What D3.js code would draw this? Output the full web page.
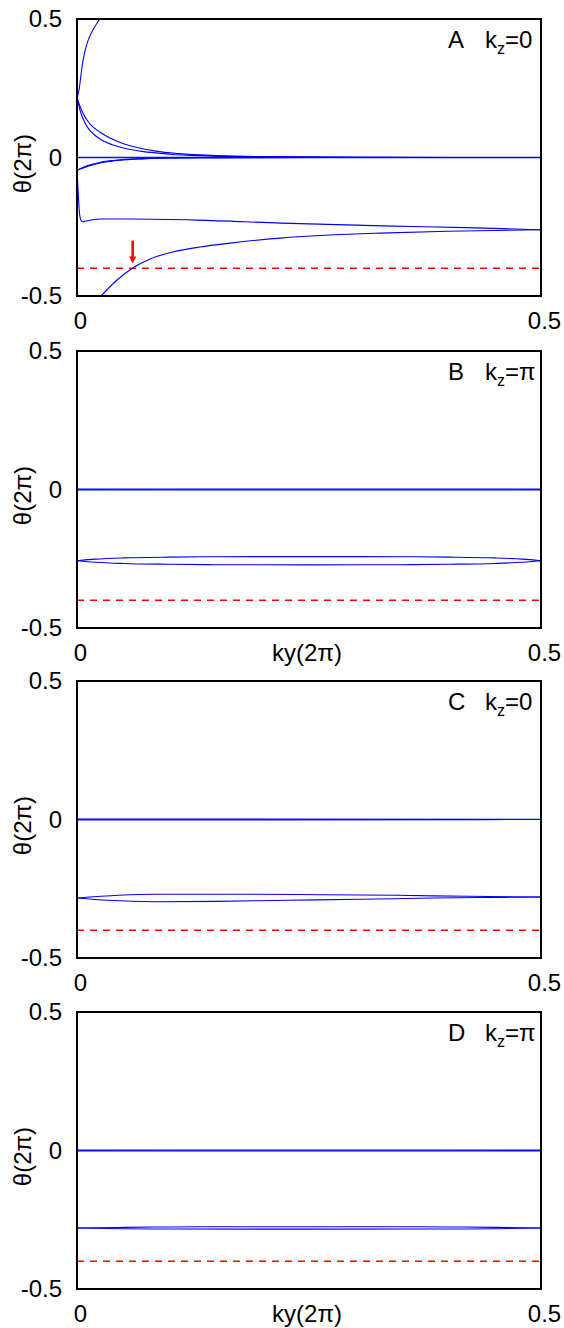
<!DOCTYPE html>
<html>
<head>
<meta charset="utf-8">
<script src="https://cdn.jsdelivr.net/npm/d3@7"></script>
<style>
  body { margin: 0; background: #fff; }
  text { font-family: "Liberation Sans", Arial, sans-serif; }
</style>
</head>
<body>
<div id="chart"></div>
<script>
// ----------------------------------------------------------------------
// Wannier centre flow theta(2pi) vs ky(2pi), four stacked panels A-D
// ----------------------------------------------------------------------

// tick labels
const xTicks = [0, 0.5];
const xTickLabels = ["0", "0.5"];
const yTicks = [-0.5, 0, 0.5];
const yTickLabels = ["-0.5", "0", "0.5"];

// panel labels
const panelLetters = ["A", "B", "C", "D"];
const panelKz = ["0", "\u03c0", "0", "\u03c0"];
const showXLabel = [false, true, false, true];

// reference (dashed) level and the arrow in panel A
const refLevel = -0.4;
const arrowKy = 0.06;
const arrowFrom = -0.30;
const arrowTo = -0.383;

// panel A curves, [ky, theta]
const curveA_up = [[0, 0.215], [0.002, 0.24], [0.004, 0.29], [0.0055, 0.33], [0.008, 0.375],
  [0.011, 0.413], [0.014, 0.44], [0.0175, 0.462], [0.021, 0.482], [0.0245, 0.5]];
const curveA_wrap = [[0.0259, -0.5], [0.0431, -0.4422], [0.06, -0.399], [0.0787, -0.366],
  [0.1034, -0.341], [0.1325, -0.323], [0.165, -0.309], [0.219, -0.291], [0.273, -0.28],
  [0.3265, -0.273], [0.399, -0.266], [0.5, -0.261]];
const curveA_mid = [[0, -0.045], [0.001, -0.11], [0.002, -0.17], [0.003, -0.21], [0.0045, -0.228],
  [0.0065, -0.232], [0.01, -0.229], [0.025, -0.222], [0.06, -0.222], [0.13, -0.226],
  [0.22, -0.237], [0.33, -0.247], [0.43, -0.254], [0.5, -0.261]];
const curveA_outer = [[0, 0.215], [0.003, 0.187], [0.006, 0.163], [0.01, 0.139], [0.016, 0.114],
  [0.025, 0.091], [0.035, 0.071], [0.05, 0.05], [0.065, 0.036], [0.085, 0.023], [0.11, 0.014],
  [0.15, 0.007], [0.2, 0.003], [0.3, 0.0008], [0.5, 0]];
const curveA_inner = [[0, 0.215], [0.002, 0.188], [0.004, 0.162], [0.007, 0.136], [0.012, 0.106],
  [0.018, 0.084], [0.026, 0.064], [0.038, 0.046], [0.05, 0.034], [0.07, 0.022], [0.1, 0.012],
  [0.14, 0.006], [0.2, 0.0025], [0.3, 0.0006], [0.5, 0]];
const curveA_low1 = [[0, -0.045], [0.005, -0.04], [0.01, -0.034], [0.017, -0.027], [0.025, -0.02],
  [0.035, -0.014], [0.05, -0.009], [0.07, -0.005], [0.1, -0.002], [0.15, -0.0008], [0.25, -0.0002], [0.5, 0]];
const curveA_low2 = [[0, -0.047], [0.005, -0.038], [0.01, -0.031], [0.017, -0.024], [0.025, -0.017],
  [0.035, -0.012], [0.05, -0.007], [0.07, -0.004], [0.1, -0.0015], [0.15, -0.0005], [0.25, -0.0001], [0.5, 0]];
const curveA_zero = [[0, 0.001], [0.5, 0.001]];
const curveA_zero2 = [[0, -0.001], [0.5, -0.001]];

// panel B curves
const curveB_zero = [[0, 0.0015], [0.5, 0.0015]];
const curveB_zero2 = [[0, -0.0015], [0.25, -0.002], [0.5, -0.0015]];
const curveB_up = [[0, -0.257], [0.02, -0.2515], [0.05, -0.247], [0.1, -0.244], [0.15, -0.2427],
  [0.25, -0.2422], [0.35, -0.2427], [0.4, -0.244], [0.45, -0.247], [0.48, -0.2515], [0.5, -0.257]];
const curveB_dn = [[0, -0.257], [0.02, -0.2625], [0.05, -0.267], [0.1, -0.27], [0.15, -0.2715],
  [0.25, -0.272], [0.35, -0.2715], [0.4, -0.27], [0.45, -0.267], [0.48, -0.2625], [0.5, -0.257]];

// panel C curves
const curveC_zero = [[0, 0.0015], [0.5, 0.001]];
const curveC_zero2 = [[0, -0.0015], [0.2, -0.0012], [0.5, 0]];
const curveC_up = [[0, -0.2834], [0.0447, -0.2737], [0.0837, -0.27], [0.189, -0.27],
  [0.2665, -0.2715], [0.344, -0.2737], [0.422, -0.2773], [0.5, -0.2798]];
const curveC_dn = [[0, -0.2834], [0.033, -0.2916], [0.0837, -0.2967], [0.15, -0.2954],
  [0.2276, -0.2916], [0.3054, -0.288], [0.383, -0.2834], [0.461, -0.281], [0.5, -0.2798]];

// panel D curves
const curveD_zero = [[0, 0.0012], [0.5, 0.0012]];
const curveD_zero2 = [[0, -0.0012], [0.25, -0.0017], [0.5, -0.0012]];
const curveD_up = [[0, -0.28], [0.05, -0.2775], [0.1, -0.276], [0.2, -0.275], [0.3, -0.275],
  [0.4, -0.276], [0.45, -0.2775], [0.5, -0.28]];
const curveD_dn = [[0, -0.28], [0.05, -0.2825], [0.1, -0.2835], [0.25, -0.284], [0.4, -0.2835],
  [0.45, -0.2825], [0.5, -0.28]];

const panelCurves = [
  [curveA_up, curveA_wrap, curveA_mid, curveA_outer, curveA_inner, curveA_low1, curveA_low2, curveA_zero, curveA_zero2],
  [curveB_zero, curveB_zero2, curveB_up, curveB_dn],
  [curveC_zero, curveC_zero2, curveC_up, curveC_dn],
  [curveD_zero, curveD_zero2, curveD_up, curveD_dn]
];

// layout
const W = 564, H = 1328;
const left = 77, right = 541;
const panelTops = [19, 351, 681, 1012];
const panelH = 277;
const fontSize = 24;

const svg = d3.select("#chart")
  .append("svg")
  .attr("width", W)
  .attr("height", H);

const x = d3.scaleLinear().domain([0, 0.5]).range([left, right]);

const line = d3.line()
  .x(d => x(d[0]))
  .curve(d3.curveMonotoneX);

panelTops.forEach(function(top, p) {
  const y = d3.scaleLinear().domain([-0.5, 0.5]).range([top + panelH, top]);
  line.y(d => y(d[1]));

  const g = svg.append("g");

  // clip so curves stay in the box
  svg.append("clipPath")
    .attr("id", "clip" + p)
    .append("rect")
    .attr("x", left).attr("y", top)
    .attr("width", right - left).attr("height", panelH);

  // dashed reference line
  g.append("line")
    .attr("x1", x(0)).attr("x2", x(0.5))
    .attr("y1", y(refLevel)).attr("y2", y(refLevel))
    .attr("stroke", "#ff0000")
    .attr("stroke-width", 1.5)
    .attr("stroke-dasharray", "7,6");

  // blue curves
  g.append("g")
    .attr("clip-path", `url(#clip${p})`)
    .selectAll("path")
    .data(panelCurves[p])
    .join("path")
    .attr("d", line)
    .attr("fill", "none")
    .attr("stroke", "#0000ff")
    .attr("stroke-width", 1.1);

  // frame
  g.append("rect")
    .attr("x", left).attr("y", top)
    .attr("width", right - left).attr("height", panelH)
    .attr("fill", "none")
    .attr("stroke", "#000")
    .attr("stroke-width", 2);

  // y axis labels (no tick marks)
  const yAxis = g.append("g")
    .attr("transform", `translate(${left - 15},0)`)
    .call(d3.axisLeft(y).tickValues(yTicks).tickSize(0)
      .tickFormat((d, i) => yTickLabels[i]));
  yAxis.select(".domain").remove();
  yAxis.selectAll("text")
    .attr("x", 0)
    .style("font-size", fontSize + "px")
    .style("font-family", "Liberation Sans, Arial, sans-serif")
    .attr("fill", "#000");

  // x axis labels
  const xAxis = g.append("g")
    .attr("transform", `translate(3,${top + panelH + 16})`)
    .call(d3.axisBottom(x).tickValues(xTicks).tickSize(0)
      .tickFormat((d, i) => xTickLabels[i]));
  xAxis.select(".domain").remove();
  xAxis.selectAll("text")
    .attr("y", 0)
    .style("font-size", fontSize + "px")
    .style("font-family", "Liberation Sans, Arial, sans-serif")
    .attr("fill", "#000");

  // y axis title
  g.append("text")
    .attr("transform", `translate(31,${top + panelH / 2 + 6}) rotate(-90)`)
    .attr("text-anchor", "middle")
    .style("font-size", fontSize + "px")
    .text("\u03b8(2\u03c0)");

  // x axis title
  if (showXLabel[p]) {
    g.append("text")
      .attr("x", 307)
      .attr("y", top + panelH + 33)
      .attr("text-anchor", "middle")
      .style("font-size", fontSize + "px")
      .text("ky(2\u03c0)");
  }

  // panel label
  g.append("text")
    .attr("x", 448)
    .attr("y", top + 29)
    .style("font-size", fontSize + "px")
    .text(panelLetters[p]);
  const kz = g.append("text")
    .attr("x", 485)
    .attr("y", top + 29)
    .style("font-size", fontSize + "px");
  kz.append("tspan").text("k");
  kz.append("tspan").attr("dy", 6).style("font-size", "16px").text("z");
  kz.append("tspan").attr("dy", -6).text("=" + panelKz[p]);

  // red arrow in panel A
  if (p === 0) {
    const ax = x(arrowKy), y0 = y(arrowFrom), y1 = y(arrowTo);
    g.append("line")
      .attr("x1", ax).attr("x2", ax)
      .attr("y1", y0).attr("y2", y1 - 6)
      .attr("stroke", "#ff0000")
      .attr("stroke-width", 2.5);
    g.append("path")
      .attr("d", `M${ax - 3.5},${y1 - 7} L${ax + 3.5},${y1 - 7} L${ax},${y1} Z`)
      .attr("fill", "#ff0000");
  }
});
</script>
</body>
</html>
